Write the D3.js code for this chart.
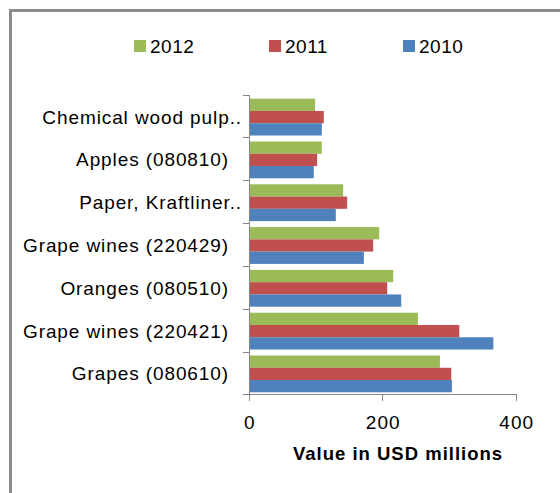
<!DOCTYPE html>
<html>
<head>
<meta charset="utf-8">
<script src="https://cdn.jsdelivr.net/npm/d3@7"></script>
<style>
  html, body { margin: 0; padding: 0; background: #fff; }
  svg { display: block; }
  text { font-family: "Liberation Sans", Arial, sans-serif; fill: #000; }
</style>
</head>
<body>
<svg id="chart" width="560" height="493"></svg>
<script>
const categories = [
  "Chemical wood pulp..",
  "Apples (080810)",
  "Paper, Kraftliner..",
  "Grape wines (220429)",
  "Oranges (080510)",
  "Grape wines (220421)",
  "Grapes (080610)"
];
const seriesNames = ["2012", "2011", "2010"];
const values2012 = [98, 108, 140, 194, 215, 252, 285];
const values2011 = [111, 101, 146, 185, 206, 314, 302];
const values2010 = [108, 96, 129, 171, 227, 365, 303];
const seriesColors = ["#9BBB59", "#C0504D", "#4F81BD"];
const xTicks = [0, 200, 400];
const axisTitle = "Value in USD millions";

const seriesValues = [values2012, values2011, values2010];
const svg = d3.select("#chart");

// outer frame
svg.append("rect")
  .attr("x", 10.5).attr("y", 10.5)
  .attr("width", 600).attr("height", 600)
  .attr("fill", "none").attr("stroke", "#8c8c8c").attr("stroke-width", 3);

const x = d3.scaleLinear().domain([0, 400]).range([249.7, 516.7]);
const y = d3.scaleBand().domain(categories).range([95.7, 395.3])
  .paddingInner(0.14).paddingOuter(0.07);
const ySub = d3.scaleBand().domain(seriesNames).range([0, y.bandwidth()]);

// bars
const groups = svg.append("g").selectAll("g")
  .data(categories).join("g")
  .attr("transform", d => `translate(0,${y(d)})`);
groups.selectAll("rect")
  .data((c, i) => seriesNames.map((s, j) => ({ s, v: seriesValues[j][i], color: seriesColors[j] })))
  .join("rect")
  .attr("x", x(0))
  .attr("y", d => ySub(d.s))
  .attr("width", d => x(d.v) - x(0))
  .attr("height", ySub.bandwidth())
  .attr("fill", d => d.color);

const axisColor = "#868686";
const axisG = svg.append("g").attr("stroke", axisColor).attr("stroke-width", 1).attr("shape-rendering", "crispEdges");
const x0 = Math.round(x(0)) - 0.5;
const yBottom = Math.round(y.range()[1]) - 0.5;
// y axis line
axisG.append("line").attr("x1", x0).attr("x2", x0).attr("y1", y.range()[0]).attr("y2", yBottom + 6);
// y ticks at band boundaries
const step = y.step();
const bounds = categories.map(c => y(c) - step * 0.07).concat([y.range()[1]]);
axisG.selectAll("line.yt").data(bounds).join("line")
  .attr("class", "yt")
  .attr("x1", x0 - 7).attr("x2", x0)
  .attr("y1", d => Math.round(d) - 0.5).attr("y2", d => Math.round(d) - 0.5);
// x axis line
axisG.append("line").attr("x1", x0 - 7).attr("x2", Math.round(x(400)) - 0.5).attr("y1", yBottom).attr("y2", yBottom);
axisG.selectAll("line.xt").data(xTicks).join("line")
  .attr("class", "xt")
  .attr("x1", d => Math.round(x(d)) - 0.5).attr("x2", d => Math.round(x(d)) - 0.5)
  .attr("y1", yBottom).attr("y2", yBottom + 6);

// x tick labels
svg.append("g").selectAll("text").data(xTicks).join("text")
  .attr("x", d => x(d))
  .attr("y", 422)
  .attr("text-anchor", "middle")
  .attr("dominant-baseline", "central")
  .style("font-size", "19px")
  .style("letter-spacing", "1px")
  .text(d => d);

// category labels
svg.append("g").selectAll("text").data(categories).join("text")
  .attr("x", d => d.endsWith("..") ? 242 : 229)
  .attr("y", d => y(d) + y.bandwidth() / 2)
  .attr("text-anchor", "end")
  .attr("dominant-baseline", "central")
  .style("font-size", "19px")
  .style("letter-spacing", "0.9px")
  .text(d => d);

// axis title
svg.append("text")
  .attr("x", 398).attr("y", 453)
  .attr("text-anchor", "middle")
  .attr("dominant-baseline", "central")
  .style("font-size", "18.5px")
  .style("font-weight", "bold")
  .style("letter-spacing", "1px")
  .text(axisTitle);

// legend
const legendX = [134, 269, 403];
const leg = svg.append("g").selectAll("g").data(seriesNames).join("g")
  .attr("transform", (d, i) => `translate(${legendX[i]},0)`);
leg.append("rect").attr("x", 0).attr("y", 40).attr("width", 12).attr("height", 12)
  .attr("fill", (d, i) => seriesColors[i]);
leg.append("text").attr("x", 16).attr("y", 46.5)
  .attr("dominant-baseline", "central")
  .style("font-size", "19px")
  .style("letter-spacing", "0.5px")
  .text(d => d);
</script>
</body>
</html>
